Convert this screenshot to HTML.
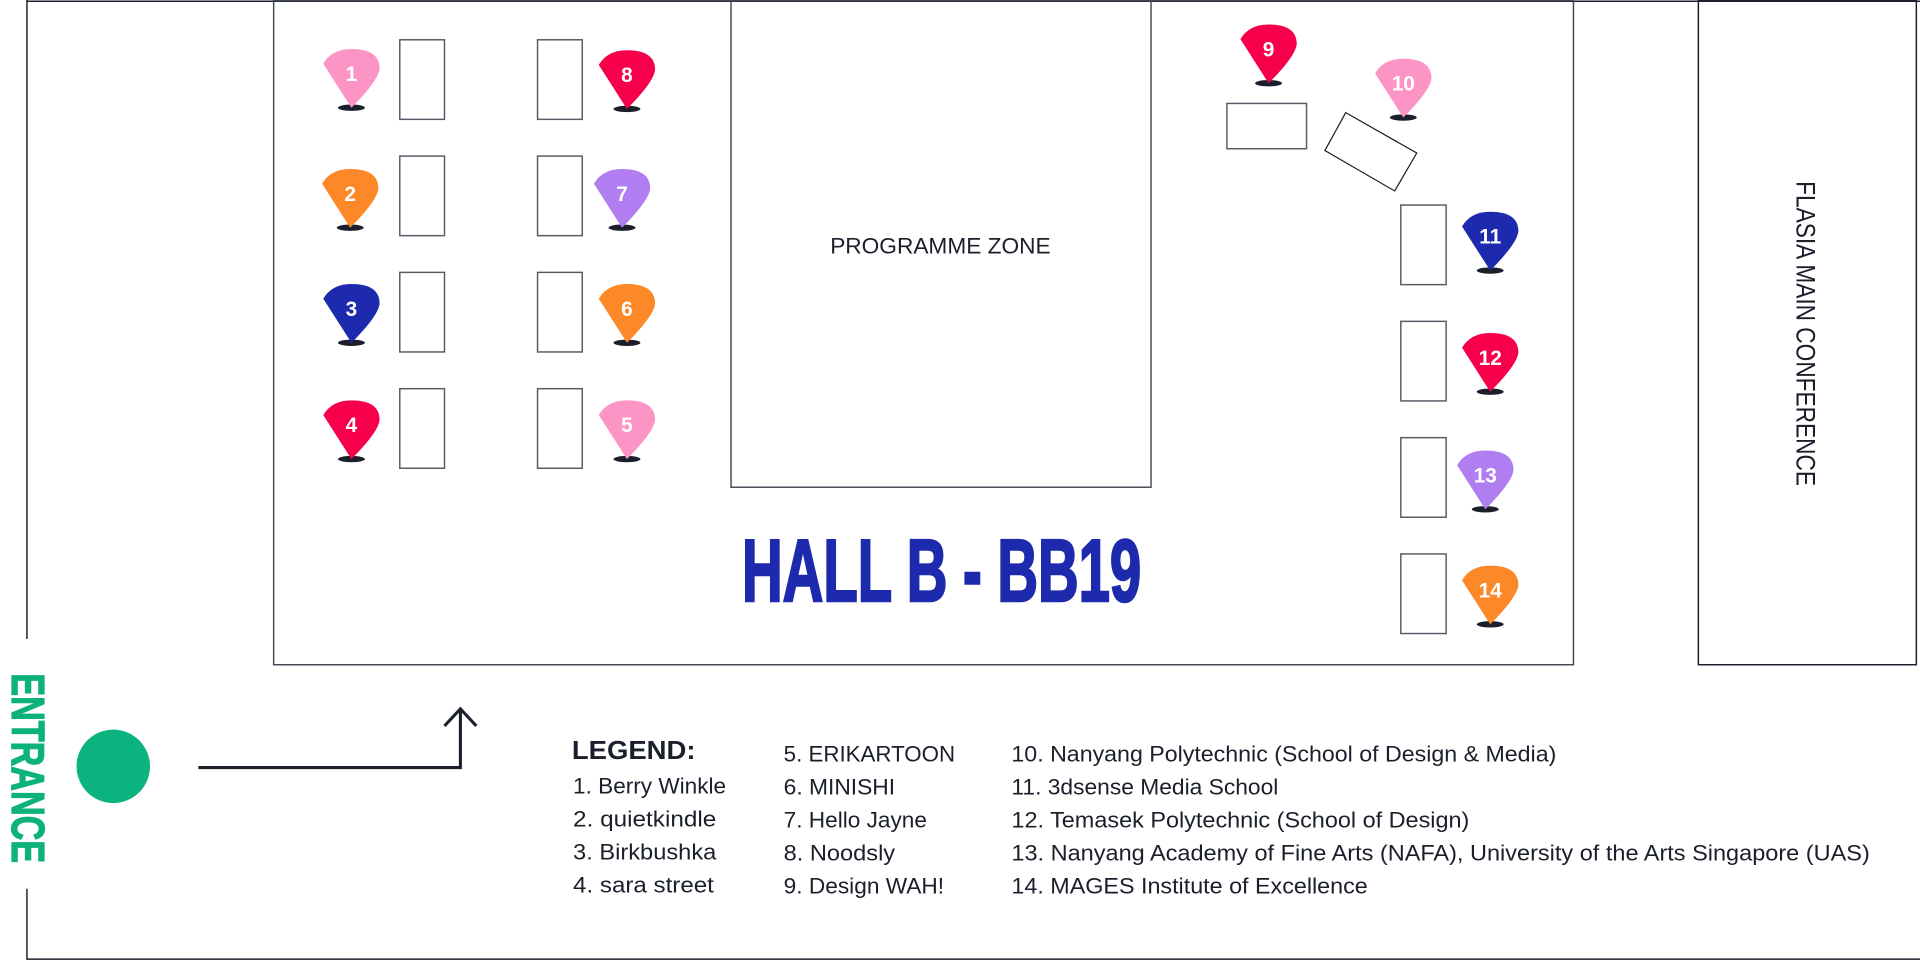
<!DOCTYPE html>
<html><head><meta charset="utf-8"><style>html,body{margin:0;padding:0;background:#fff}svg{display:block}</style></head>
<body>
<svg width="1920" height="961" viewBox="0 0 1568 785" preserveAspectRatio="none" xmlns="http://www.w3.org/2000/svg" font-family="Liberation Sans, sans-serif">
<g fill="none" stroke="#1a1f2b" stroke-width="1.2">
<line x1="22" y1="1" x2="1568" y2="1"/>
<line x1="22" y1="0" x2="22" y2="522"/>
<line x1="22" y1="726" x2="22" y2="784"/>
<line x1="22" y1="783.5" x2="1568" y2="783.5"/>
<rect x="223.5" y="0.5" width="1061.5" height="542.5" stroke="#444a55"/>
<rect x="597" y="0.5" width="343" height="397.5" stroke="#444a55"/>
<rect x="1387" y="0.5" width="178" height="542.5"/>
</g>
<g fill="#fff" stroke="#555b66" stroke-width="1.2">
<rect x="326.5" y="32.5" width="36.5" height="65"/>
<rect x="326.5" y="127.5" width="36.5" height="65"/>
<rect x="326.5" y="222.5" width="36.5" height="65"/>
<rect x="326.5" y="317.5" width="36.5" height="65"/>
<rect x="439" y="32.5" width="36.5" height="65"/>
<rect x="439" y="127.5" width="36.5" height="65"/>
<rect x="439" y="222.5" width="36.5" height="65"/>
<rect x="439" y="317.5" width="36.5" height="65"/>
<rect x="1144" y="167.5" width="37" height="65"/>
<rect x="1144" y="262.5" width="37" height="65"/>
<rect x="1144" y="357.5" width="37" height="65"/>
<rect x="1144" y="452.5" width="37" height="65"/>
<rect x="1002" y="84.5" width="65" height="37"/>
<polygon points="1099,92 1157,125 1139,156 1082,123" stroke="#1a1f2b" stroke-width="1"/>
</g>
<defs>
<g id="pin"><ellipse cx="0" cy="48" rx="11" ry="2.6" fill="#1a1f2b"/><path d="M0,48 L-23,12 Q-16,0 0,0 Q23,0 23,16 Q22,26 0,48Z"/></g>
</defs>
<g font-weight="bold" font-size="17" fill="#fff" text-anchor="middle">
<g transform="translate(287,40)" fill="#fd94c6"><use href="#pin"/><text y="26" fill="#fff">1</text></g>
<g transform="translate(286,138)" fill="#fd8827"><use href="#pin"/><text y="26" fill="#fff">2</text></g>
<g transform="translate(287,232)" fill="#1e2aad"><use href="#pin"/><text y="26" fill="#fff">3</text></g>
<g transform="translate(287,327)" fill="#f7004b"><use href="#pin"/><text y="26" fill="#fff">4</text></g>
<g transform="translate(512,327)" fill="#fd94c6"><use href="#pin"/><text y="26" fill="#fff">5</text></g>
<g transform="translate(512,232)" fill="#fd8827"><use href="#pin"/><text y="26" fill="#fff">6</text></g>
<g transform="translate(508,138)" fill="#b07ef0"><use href="#pin"/><text y="26" fill="#fff">7</text></g>
<g transform="translate(512,41)" fill="#f7004b"><use href="#pin"/><text y="26" fill="#fff">8</text></g>
<g transform="translate(1036,20)" fill="#f7004b"><use href="#pin"/><text y="26" fill="#fff">9</text></g>
<g transform="translate(1146,48)" fill="#fd94c6"><use href="#pin"/><text y="26" fill="#fff">10</text></g>
<g transform="translate(1217,173)" fill="#1e2aad"><use href="#pin"/><text y="26" fill="#fff">11</text></g>
<g transform="translate(1217,272)" fill="#f7004b"><use href="#pin"/><text y="26" fill="#fff">12</text></g>
<g transform="translate(1213,368)" fill="#b07ef0"><use href="#pin"/><text y="26" fill="#fff">13</text></g>
<g transform="translate(1217,462)" fill="#fd8827"><use href="#pin"/><text y="26" fill="#fff">14</text></g>
</g>
<text x="768" y="207" font-size="18" fill="#1a1f2b" text-anchor="middle" textLength="180" lengthAdjust="spacingAndGlyphs">PROGRAMME ZONE</text>
<text x="606" y="491" font-size="72" font-weight="900" fill="#1e2aad" stroke="#1e2aad" stroke-width="2" textLength="326" lengthAdjust="spacingAndGlyphs">HALL B - BB19</text>
<text transform="translate(1467,148) rotate(90)" font-size="22" fill="#1a1f2b" textLength="249" lengthAdjust="spacingAndGlyphs">FLASIA MAIN CONFERENCE</text>
<text transform="translate(10,550) rotate(90)" font-size="38" font-weight="bold" fill="#0db27a" stroke="#0db27a" stroke-width="1" textLength="155" lengthAdjust="spacingAndGlyphs">ENTRANCE</text>
<circle cx="92.5" cy="626" r="30" fill="#0bb37f"/>
<g fill="none" stroke="#1a1f2b" stroke-width="2.5">
<polyline points="162,627 376,627 376,580"/>
<polyline points="363,593 376,579 389,593"/>
</g>
<g font-size="18" fill="#1a1f2b">
<text x="467" y="620" font-size="21" font-weight="bold" textLength="101" lengthAdjust="spacingAndGlyphs">LEGEND:</text>
<text x="468" y="648" textLength="125" lengthAdjust="spacingAndGlyphs">1. Berry Winkle</text>
<text x="468" y="675" textLength="117" lengthAdjust="spacingAndGlyphs">2. quietkindle</text>
<text x="468" y="702" textLength="117" lengthAdjust="spacingAndGlyphs">3. Birkbushka</text>
<text x="468" y="729" textLength="115" lengthAdjust="spacingAndGlyphs">4. sara street</text>
<text x="640" y="622" textLength="140" lengthAdjust="spacingAndGlyphs">5. ERIKARTOON</text>
<text x="640" y="649" textLength="91" lengthAdjust="spacingAndGlyphs">6. MINISHI</text>
<text x="640" y="676" textLength="117" lengthAdjust="spacingAndGlyphs">7. Hello Jayne</text>
<text x="640" y="703" textLength="91" lengthAdjust="spacingAndGlyphs">8. Noodsly</text>
<text x="640" y="730" textLength="131" lengthAdjust="spacingAndGlyphs">9. Design WAH!</text>
<text x="826" y="622" textLength="445" lengthAdjust="spacingAndGlyphs">10. Nanyang Polytechnic (School of Design &amp; Media)</text>
<text x="826" y="649" textLength="218" lengthAdjust="spacingAndGlyphs">11. 3dsense Media School</text>
<text x="826" y="676" textLength="374" lengthAdjust="spacingAndGlyphs">12. Temasek Polytechnic (School of Design)</text>
<text x="826" y="703" textLength="701" lengthAdjust="spacingAndGlyphs">13. Nanyang Academy of Fine Arts (NAFA), University of the Arts Singapore (UAS)</text>
<text x="826" y="730" textLength="291" lengthAdjust="spacingAndGlyphs">14. MAGES Institute of Excellence</text>
</g>
</svg>
</body></html>
